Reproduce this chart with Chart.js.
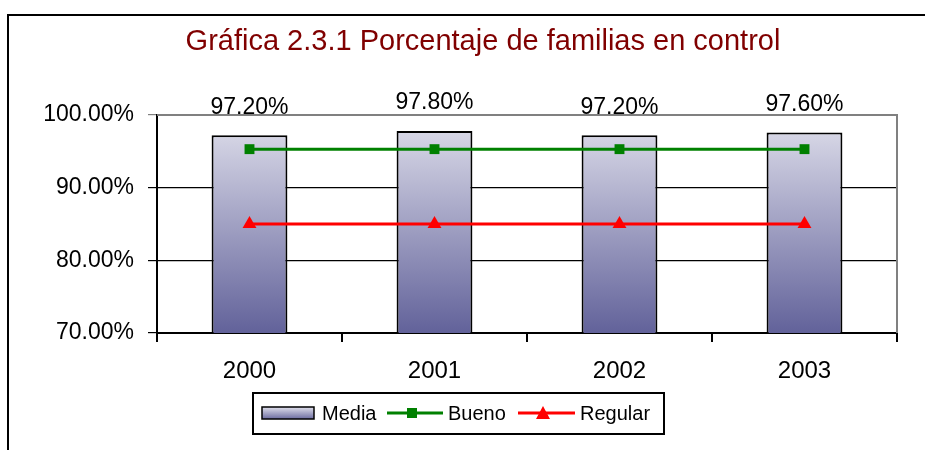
<!DOCTYPE html>
<html><head><meta charset="utf-8">
<script src="https://cdn.jsdelivr.net/npm/chart.js@4"></script>
<style>html,body{margin:0;padding:0;background:#fff;}#wrap{width:925px;height:450px;}</style>
</head><body><div id="wrap"><canvas id="c" width="925" height="450"></canvas></div>
<script>
const categories = ['2000', '2001', '2002', '2003'];
const media = [97.2, 97.8, 97.2, 97.6];
const bueno = [95.3, 95.3, 95.3, 95.3];
const regular = [85, 85, 85, 85];
const yTicks = [70, 80, 90, 100];
const titleText = 'Gráfica 2.3.1 Porcentaje de familias en control';
const seriesNames = ['Media', 'Bueno', 'Regular'];

const FONT = '"Liberation Sans", Arial, sans-serif';

function barGradient(c, top, bottom) {
  const g = c.createLinearGradient(0, top, 0, bottom);
  g.addColorStop(0, '#E0E0EC');
  g.addColorStop(1, '#62629A');
  return g;
}

const decor = {
  id: 'decor',
  beforeDraw(chart) {
    const c = chart.ctx;
    c.save();
    c.fillStyle = '#fff';
    c.fillRect(0, 0, chart.width, chart.height);
    c.restore();
  },
  afterDatasetsDraw(chart) {
    const c = chart.ctx;
    const ca = chart.chartArea;
    c.save();
    c.strokeStyle = '#808080';
    c.lineWidth = 2;
    c.beginPath();
    c.moveTo(ca.left, ca.top);
    c.lineTo(ca.right, ca.top);
    c.lineTo(ca.right, ca.bottom);
    c.stroke();
    const meta = chart.getDatasetMeta(0);
    c.fillStyle = '#000';
    c.font = '23px ' + FONT;
    c.textAlign = 'center';
    c.textBaseline = 'middle';
    meta.data.forEach((bar, i) => {
      c.fillText(media[i].toFixed(2) + '%', bar.x, bar.y - 28);
    });
    c.restore();
  },
  afterDraw(chart) {
    const c = chart.ctx;
    c.save();
    c.strokeStyle = '#000';
    c.lineWidth = 2;
    c.beginPath();
    c.moveTo(8, 452);
    c.lineTo(8, 15);
    c.lineTo(930, 15);
    c.stroke();
    c.fillStyle = '#800000';
    c.font = '29px ' + FONT;
    c.textAlign = 'center';
    c.textBaseline = 'middle';
    c.fillText(titleText, 483, 42);
    c.strokeStyle = '#000';
    c.lineWidth = 2;
    c.strokeRect(253, 393, 411, 41);
    c.fillStyle = barGradient(c, 407, 420);
    c.fillRect(262, 407, 52, 12);
    c.lineWidth = 1.5;
    c.strokeRect(262, 407, 52, 12);
    c.font = '20px ' + FONT;
    c.textAlign = 'left';
    c.fillStyle = '#000';
    c.fillText(seriesNames[0], 322, 414);
    c.strokeStyle = '#008000';
    c.lineWidth = 3;
    c.beginPath(); c.moveTo(387, 413); c.lineTo(443, 413); c.stroke();
    c.fillStyle = '#008000';
    c.fillRect(407, 408, 10, 10);
    c.fillStyle = '#000';
    c.fillText(seriesNames[1], 448, 414);
    c.strokeStyle = '#FF0000';
    c.beginPath(); c.moveTo(518, 413); c.lineTo(575, 413); c.stroke();
    c.fillStyle = '#FF0000';
    c.beginPath(); c.moveTo(543, 406); c.lineTo(550, 419); c.lineTo(536, 419); c.closePath(); c.fill();
    c.fillStyle = '#000';
    c.fillText(seriesNames[2], 580, 414);
    c.restore();
  }
};

new Chart(document.getElementById('c'), {
  type: 'bar',
  data: {
    labels: categories,
    datasets: [
      {
        type: 'bar', label: seriesNames[0], data: media, order: 3,
        backgroundColor: (ctx) => {
          const ca = ctx.chart.chartArea;
          if (!ca) return '#aaa';
          return barGradient(ctx.chart.ctx, ca.top, ca.bottom);
        },
        borderColor: '#000', borderWidth: 2, borderSkipped: false,
        categoryPercentage: 1, barPercentage: 0.41
      },
      {
        type: 'line', label: seriesNames[1], data: bueno, order: 1,
        borderColor: '#008000', backgroundColor: '#008000', borderWidth: 3,
        pointStyle: 'rect', pointRadius: 7, pointHoverRadius: 7, pointBorderWidth: 0
      },
      {
        type: 'line', label: seriesNames[2], data: regular, order: 2,
        borderColor: '#FF0000', backgroundColor: '#FF0000', borderWidth: 3,
        pointStyle: 'triangle', pointRadius: 8, pointHoverRadius: 8, pointBorderWidth: 0
      }
    ]
  },
  options: {
    responsive: false,
    animation: false,
    events: [],
    layout: { padding: { top: 115, right: 28, left: 0, bottom: 0 } },
    plugins: { legend: { display: false }, title: { display: false }, tooltip: { enabled: false } },
    scales: {
      x: {
        afterFit(s) { s.height = 117; },
        grid: { drawOnChartArea: false, drawTicks: true, tickLength: 9, color: '#000', lineWidth: 2, offset: true },
        border: { color: '#000', width: 2 },
        ticks: { color: '#000', font: { family: FONT, size: 24 }, padding: 15 }
      },
      y: {
        min: 70, max: 100,
        afterFit(s) { s.width = 157; },
        afterBuildTicks(s) { s.ticks = yTicks.map(v => ({ value: v })); },
        grid: {
          color: (ctx) => (ctx.tick && ctx.tick.value === 100 ? '#808080' : '#000'),
          lineWidth: 1.2, tickLength: 9, drawTicks: true
        },
        border: { color: '#000', width: 2 },
        ticks: {
          color: '#000', font: { family: FONT, size: 23 }, padding: 14,
          callback: (v) => Number(v).toFixed(2) + '%'
        }
      }
    }
  },
  plugins: [decor]
});
</script></body></html>
